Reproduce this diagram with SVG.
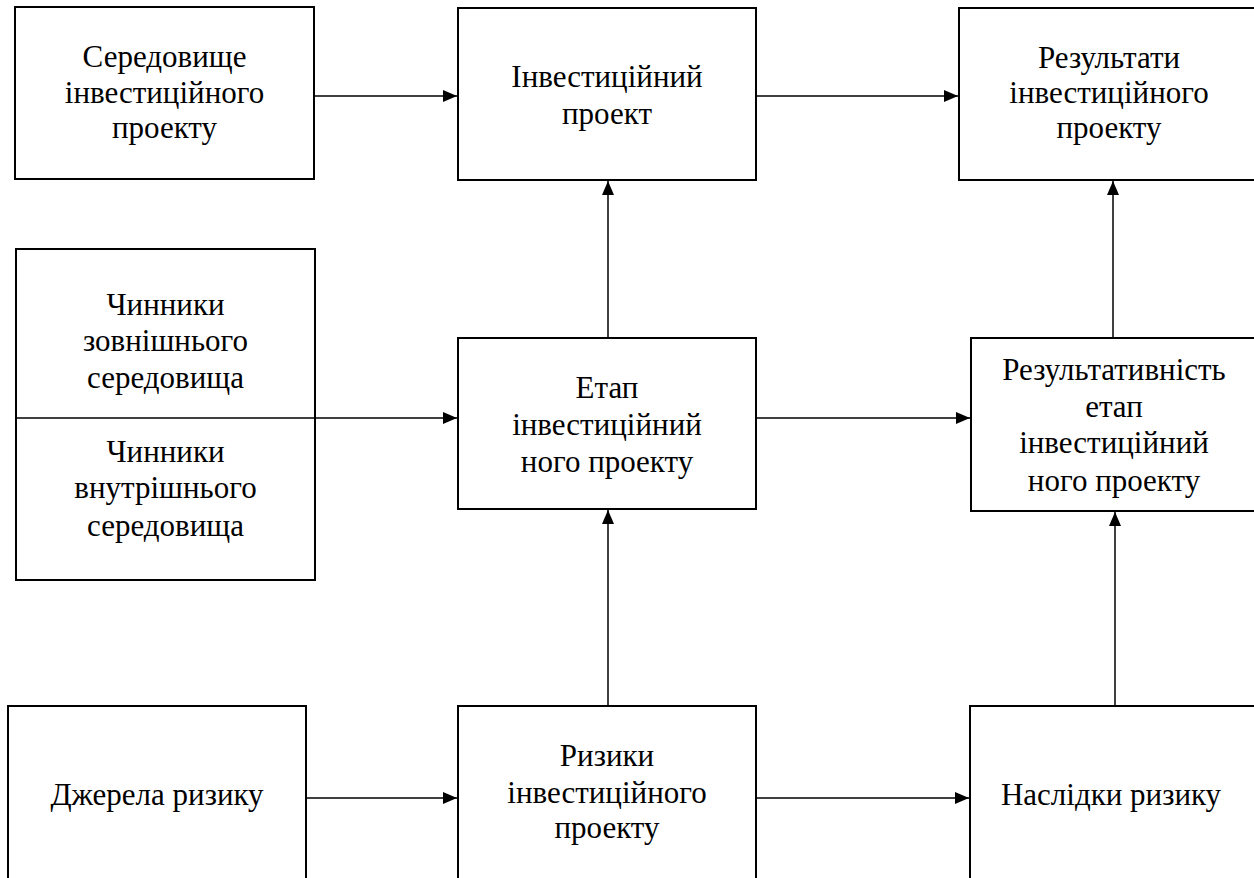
<svg xmlns="http://www.w3.org/2000/svg" width="1254" height="878" viewBox="0 0 1254 878">
<style>
svg text, g[id] text, #n1 text, #n2 text, #n3 text, #n4 text, #n5 text, #n6 text, #n7 text, #n8 text, #n9 text { font-family: "Liberation Serif", serif !important; font-size: 31px !important; }
</style>
<defs>
<marker id="ah" markerWidth="14" markerHeight="12" refX="14" refY="6" orient="auto" markerUnits="userSpaceOnUse">
<path d="M0,0 L14,6 L0,12 Z" fill="#000"/>
</marker>
</defs>
<rect width="1254" height="878" fill="#fff"/>
<g font-size="31" text-anchor="middle" fill="#000" font-family="Liberation Serif, serif">
<g id="n1"><rect x="15" y="7" width="299" height="172" fill="#fff" stroke="#000" stroke-width="2"/>
<text x="164.5" y="67" style="font-family:'Liberation Serif',serif !important">Середовище</text>
<text x="164.5" y="103" style="font-family:'Liberation Serif',serif !important">інвестиційного</text>
<text x="164.5" y="138" style="font-family:'Liberation Serif',serif !important">проекту</text></g>
<g id="n2"><rect x="458" y="8" width="298" height="172" fill="#fff" stroke="#000" stroke-width="2"/>
<text x="607" y="87" style="font-family:'Liberation Serif',serif !important">Інвестиційний</text>
<text x="607" y="124" style="font-family:'Liberation Serif',serif !important">проект</text></g>
<g id="n3"><rect x="959" y="8" width="300" height="172" fill="#fff" stroke="#000" stroke-width="2"/>
<text x="1109" y="68" style="font-family:'Liberation Serif',serif !important">Результати</text>
<text x="1109" y="103" style="font-family:'Liberation Serif',serif !important">інвестиційного</text>
<text x="1109" y="138" style="font-family:'Liberation Serif',serif !important">проекту</text></g>
<g id="n4"><rect x="16" y="249" width="299" height="331" fill="#fff" stroke="#000" stroke-width="2"/>
<line x1="16" y1="418" x2="315" y2="418" stroke="#000" stroke-width="1.5"/>
<text x="165.5" y="315" style="font-family:'Liberation Serif',serif !important">Чинники</text>
<text x="165.5" y="351" style="font-family:'Liberation Serif',serif !important">зовнішнього</text>
<text x="165.5" y="388" style="font-family:'Liberation Serif',serif !important">середовища</text>
<text x="165.5" y="462" style="font-family:'Liberation Serif',serif !important">Чинники</text>
<text x="165.5" y="498" style="font-family:'Liberation Serif',serif !important">внутрішнього</text>
<text x="165.5" y="536" style="font-family:'Liberation Serif',serif !important">середовища</text></g>
<g id="n5"><rect x="458" y="338" width="298" height="171" fill="#fff" stroke="#000" stroke-width="2"/>
<text x="607" y="398" style="font-family:'Liberation Serif',serif !important">Етап</text>
<text x="607" y="435" style="font-family:'Liberation Serif',serif !important">інвестиційний</text>
<text x="607" y="472" style="font-family:'Liberation Serif',serif !important">ного проекту</text></g>
<g id="n6"><rect x="971" y="338" width="287" height="173" fill="#fff" stroke="#000" stroke-width="2"/>
<text x="1114" y="380" style="font-family:'Liberation Serif',serif !important">Результативність</text>
<text x="1114" y="417" style="font-family:'Liberation Serif',serif !important">етап</text>
<text x="1114" y="453" style="font-family:'Liberation Serif',serif !important">інвестиційний</text>
<text x="1114" y="491" style="font-family:'Liberation Serif',serif !important">ного проекту</text></g>
<g id="n7"><rect x="8" y="706" width="298" height="190" fill="#fff" stroke="#000" stroke-width="2"/>
<text x="157" y="805" style="font-family:'Liberation Serif',serif !important">Джерела ризику</text></g>
<g id="n8"><rect x="458" y="706" width="298" height="190" fill="#fff" stroke="#000" stroke-width="2"/>
<text x="607" y="766" style="font-family:'Liberation Serif',serif !important">Ризики</text>
<text x="607" y="803" style="font-family:'Liberation Serif',serif !important">інвестиційного</text>
<text x="607" y="838" style="font-family:'Liberation Serif',serif !important">проекту</text></g>
<g id="n9"><rect x="970" y="706" width="288" height="190" fill="#fff" stroke="#000" stroke-width="2"/>
<text x="1111" y="805" style="font-family:'Liberation Serif',serif !important">Наслідки ризику</text></g>
</g>
<g id="connectors" stroke="#000" stroke-width="1.5" fill="none">
<line x1="314" y1="96" x2="457" y2="96" marker-end="url(#ah)"/>
<line x1="756" y1="96" x2="958" y2="96" marker-end="url(#ah)"/>
<line x1="315" y1="418" x2="457" y2="418" marker-end="url(#ah)"/>
<line x1="756" y1="418" x2="970" y2="418" marker-end="url(#ah)"/>
<line x1="306" y1="798" x2="457" y2="798" marker-end="url(#ah)"/>
<line x1="756" y1="798" x2="969" y2="798" marker-end="url(#ah)"/>
<line x1="608" y1="338" x2="608" y2="181" marker-end="url(#ah)"/>
<line x1="608" y1="706" x2="608" y2="510" marker-end="url(#ah)"/>
<line x1="1113" y1="338" x2="1113" y2="181" marker-end="url(#ah)"/>
<line x1="1115" y1="706" x2="1115" y2="512" marker-end="url(#ah)"/>
</g>
</svg>
